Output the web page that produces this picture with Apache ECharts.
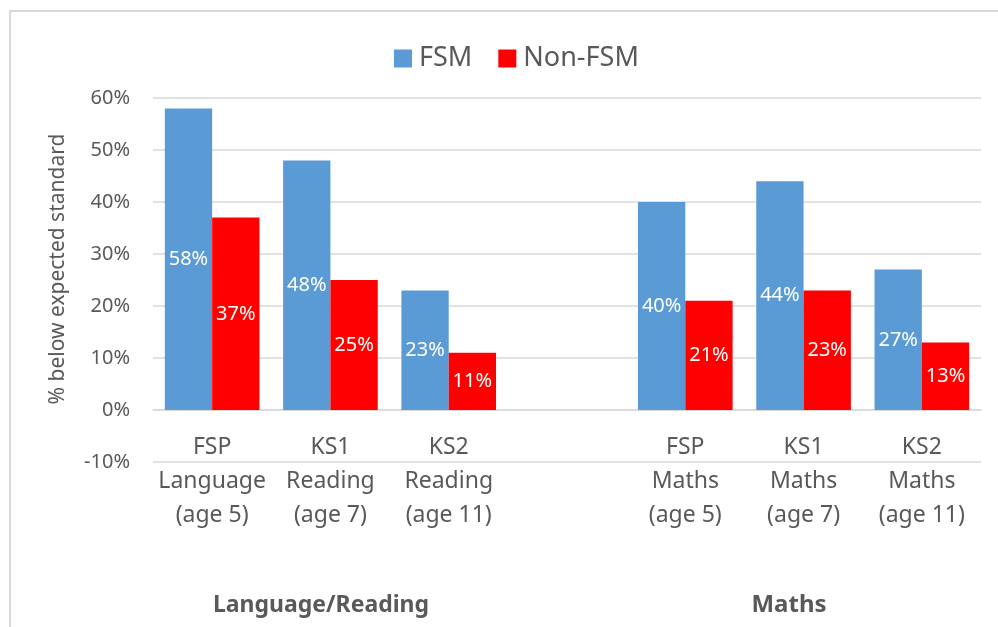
<!DOCTYPE html>
<html>
<head>
<meta charset="utf-8">
<script src="https://cdn.jsdelivr.net/npm/echarts@6/dist/echarts.min.js"></script>
<style>
  html, body { margin: 0; padding: 0; background: #fff; }
  #chart { width: 998px; height: 627px; }
</style>
</head>
<body>
<div id="chart"></div>
<script>
// categories (blank slot separates the two groups)
const categories = [
  'FSP\nLanguage\n(age 5)',
  'KS1\nReading\n(age 7)',
  'KS2\nReading\n(age 11)',
  '',
  'FSP\nMaths\n(age 5)',
  'KS1\nMaths\n(age 7)',
  'KS2\nMaths\n(age 11)'
]
const fsmValues = [58, 48, 23, null, 40, 44, 27]
const nonFsmValues = [37, 25, 11, null, 21, 23, 13]
const groupLabels = ['Language/Reading', 'Maths']
const yTicks = { min: -10, max: 60, interval: 10 }

const textColor = '#595959'
const gridColor = '#d9d9d9'
const font = 'Noto Sans'

const gridTop = 98
const gridBottom = 165
const plotHeight = 627 - gridTop - gridBottom
// pixel distance from the bottom of the plot up to the 0% line
const zeroOffset = plotHeight * (0 - yTicks.min) / (yTicks.max - yTicks.min)

const chart = echarts.init(document.getElementById('chart'))

const barLabel = {
  show: true,
  position: 'inside',
  color: '#fff',
  fontFamily: font,
  fontSize: 20,
  formatter: (p) => p.value + '%'
}

chart.setOption({
  backgroundColor: '#fff',
  animation: false,
  textStyle: { fontFamily: font },
  grid: { left: 153, right: 17, top: gridTop, bottom: gridBottom },
  legend: {
    left: 389,
    top: 40,
    itemWidth: 18,
    itemHeight: 18,
    itemGap: 26,
    icon: 'rect',
    textStyle: { color: textColor, fontSize: 27, fontFamily: font, padding: [0, 0, 0, 2] },
    data: ['FSM', 'Non-FSM']
  },
  xAxis: {
    type: 'category',
    data: categories,
    offset: -zeroOffset,
    axisLine: { show: true, onZero: false, lineStyle: { color: gridColor, width: 1.5 } },
    axisTick: { show: false },
    axisLabel: {
      color: textColor,
      fontSize: 23,
      fontFamily: font,
      lineHeight: 34,
      margin: 20,
      interval: 0
    }
  },
  yAxis: {
    type: 'value',
    min: yTicks.min,
    max: yTicks.max,
    interval: yTicks.interval,
    axisLabel: {
      color: textColor,
      fontSize: 20,
      fontFamily: font,
      margin: 23,
      formatter: (v) => v + '%'
    },
    splitLine: { lineStyle: { color: gridColor, width: 1.5 } }
  },
  series: [
    {
      name: 'FSM',
      type: 'bar',
      data: fsmValues,
      barCategoryGap: '20%',
      barGap: '0%',
      itemStyle: { color: '#5B9BD5' },
      label: barLabel
    },
    {
      name: 'Non-FSM',
      type: 'bar',
      data: nonFsmValues,
      itemStyle: { color: '#FF0000' },
      label: barLabel
    }
  ],
  graphic: [
    {
      type: 'rect',
      shape: { x: 10, y: 11, width: 1100, height: 700 },
      style: { fill: 'none', stroke: gridColor, lineWidth: 2 },
      silent: true
    },
    {
      type: 'text',
      x: 58,
      y: 269,
      rotation: Math.PI / 2,
      style: {
        text: '% below expected standard',
        fill: textColor,
        fontSize: 21,
        fontFamily: font,
        align: 'center',
        verticalAlign: 'middle'
      }
    },
    {
      type: 'text',
      x: 321,
      y: 605,
      style: {
        text: groupLabels[0],
        fill: textColor,
        fontSize: 23,
        fontWeight: 'bold',
        fontFamily: font,
        align: 'center',
        verticalAlign: 'middle'
      }
    },
    {
      type: 'text',
      x: 789,
      y: 605,
      style: {
        text: groupLabels[1],
        fill: textColor,
        fontSize: 24,
        fontWeight: 'bold',
        fontFamily: font,
        align: 'center',
        verticalAlign: 'middle'
      }
    }
  ]
})
</script>
</body>
</html>
